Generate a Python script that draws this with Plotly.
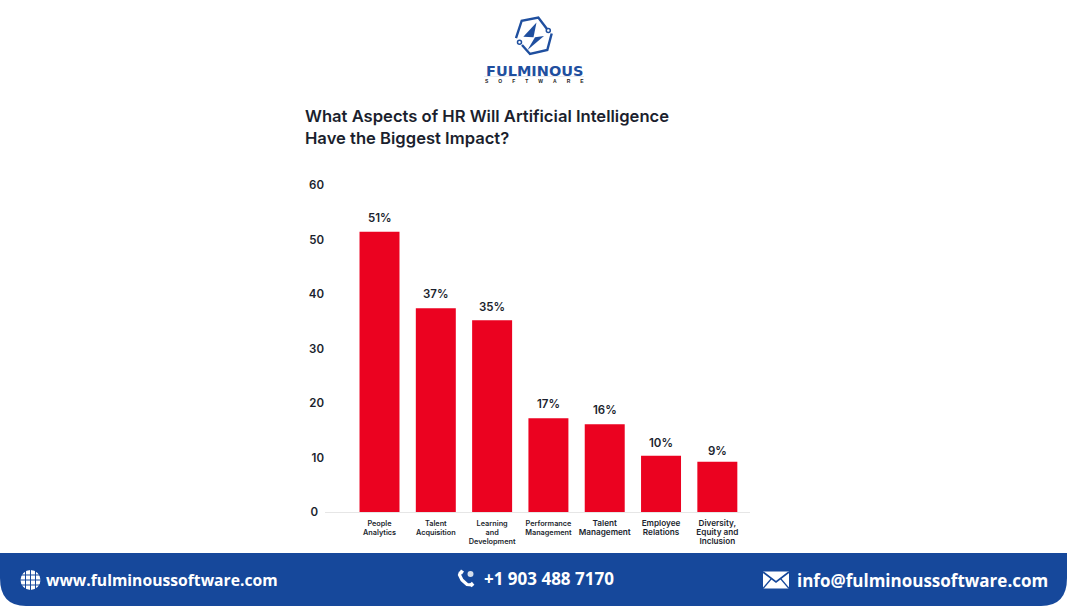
import plotly.graph_objects as go

W = 1067
H = 606

categories = ['People Analytics', 'Talent Acquisition', 'Learning and Development',
              'Performance Management', 'Talent Management', 'Employee Relations',
              'Diversity, Equity and Inclusion']
values = [51.4, 37.4, 35.2, 17.2, 16.1, 10.3, 9.2]
value_labels = ['51%', '37%', '35%', '17%', '16%', '10%', '9%']
tick_lines = ['People<br>Analytics', 'Talent<br>Acquisition', 'Learning<br>and<br>Development',
              'Performance<br>Management', 'Talent<br>Management', 'Employee<br>Relations',
              'Diversity,<br>Equity and<br>Inclusion']
y_ticks = [0, 10, 20, 30, 40, 50, 60]

# styling per bar
tick_sizes = [7.3, 7.3, 7.3, 7.3, 8.2, 8.2, 8.2]
label_shifts = [14, 14, 13, 14, 14, 13, 11]

BLUE = '#16489B'
LOGO = '#1F4F9F'
INK = '#1B1F2E'


def px(x):
    return x / W


def py(y):
    return 1 - y / H


def path(points, close=False):
    s = 'M ' + ' L '.join('{:.5f},{:.5f}'.format(px(x), py(y)) for x, y in points)
    return s + (' Z' if close else '')


def circle(cx, cy, r, fill, line=None, width=0):
    return dict(type='circle', xref='paper', yref='paper',
                x0=px(cx - r), x1=px(cx + r), y0=py(cy + r), y1=py(cy - r),
                fillcolor=fill, line=dict(color=line or fill, width=width))


def stroke(points, color, width):
    return dict(type='path', xref='paper', yref='paper', path=path(points),
                line=dict(color=color, width=width))


def solid(points, color):
    return dict(type='path', xref='paper', yref='paper', path=path(points, True),
                fillcolor=color, line=dict(width=0))


shapes = []

# footer band, rounded bottom corners
shapes.append(dict(
    type='path', xref='paper', yref='paper', layer='below', fillcolor=BLUE, line=dict(width=0),
    path='M {},{} L {},{} L {},{} Q {},{} {},{} L {},{} Q {},{} {},{} Z'.format(
        px(0), py(553), px(W), py(553), px(W), py(578),
        px(W), py(606), px(W - 26), py(606),
        px(26), py(606), px(0), py(606), px(0), py(578))))

# logo
shapes.append(stroke([(547, 29), (538.3, 17.5), (521.7, 20.7), (516, 38)], LOGO, 2.4))
shapes.append(stroke([(522, 45), (530, 54), (547.3, 50), (551.7, 33.5)], LOGO, 2.4))
shapes.append(circle(548.3, 30.5, 2, 'white', LOGO, 1.5))
shapes.append(circle(519.5, 42.3, 2, 'white', LOGO, 1.5))
shapes.append(solid([(536.5, 22.5), (523.3, 36.7), (533.5, 37.3)], LOGO))
shapes.append(solid([(544, 36), (535, 37.3), (527.5, 50)], LOGO))
shapes.append(stroke([(484, 76.5), (584, 76.5)], '#E3E6EC', 0.8))

# globe icon
shapes.append(circle(30.5, 580, 10, 'white'))
for dy in (-5, 0, 5):
    shapes.append(stroke([(20, 580 + dy), (41, 580 + dy)], BLUE, 1))
for dx in (-5, 0, 5):
    shapes.append(stroke([(30.5 + dx, 570), (30.5 + dx, 590)], BLUE, 1))

# phone icon
shapes.append(stroke([(460.5, 572), (459.5, 575), (462, 580), (467, 584.5), (472, 585)], 'white', 3.2))
shapes.append(stroke([(460, 571), (463, 573)], 'white', 3.6))
shapes.append(stroke([(470.5, 583), (473, 586)], 'white', 3.6))
shapes.append(circle(470.5, 574, 3, '#D5DEEC'))

# envelope icon
shapes.append(dict(type='rect', xref='paper', yref='paper', x0=px(763), x1=px(789),
                   y0=py(588.5), y1=py(571.5), fillcolor='white', line=dict(width=0)))
shapes.append(stroke([(763, 572), (776, 582), (789, 572)], BLUE, 1.6))
shapes.append(stroke([(763, 588.5), (771.5, 578.5)], BLUE, 1.2))
shapes.append(stroke([(789, 588.5), (780.5, 578.5)], BLUE, 1.2))

annotations = []

# labels over the bars
for cat, val, lab, shift in zip(categories, values, value_labels, label_shifts):
    annotations.append(dict(x=cat, y=val, xref='x', yref='y', text=lab, showarrow=False,
                            yshift=shift, font=dict(family='Inter', size=11.5, color=INK, weight=600)))


def page_text(x, y, text, font, xanchor='left'):
    annotations.append(dict(x=px(x), y=py(y), xref='paper', yref='paper', text=text,
                            showarrow=False, xanchor=xanchor, yanchor='middle', font=font))


page_text(44, 580, 'www.fulminoussoftware.com', dict(family='Open Sans', size=15.7, color='white', weight=700))
page_text(482, 578.5, '+1 903 488 7170', dict(family='Open Sans', size=17, color='white', weight=700))
page_text(795, 580, 'info@fulminoussoftware.com', dict(family='Open Sans', size=17, color='white', weight=700))
page_text(534, 70.5, 'FULMINOUS', dict(family='DejaVu Sans', size=14.5, color=LOGO, weight=700), 'center')
page_text(534, 81, '\u2003\u2003'.join('SOFTWARE'), dict(family='Liberation Sans', size=5, color='#222222', weight=700), 'center')

fig = go.Figure()

fig.add_trace(go.Bar(
    x=categories,
    y=values,
    marker=dict(color='#EB0220', line_width=0),
    hoverinfo='skip',
    showlegend=False,
))

fig.update_layout(
    width=W,
    height=H,
    margin=dict(l=0, r=0, t=0, b=0),
    paper_bgcolor='white',
    plot_bgcolor='white',
    bargap=0.29,
    shapes=shapes,
    annotations=annotations,
    title=dict(
        text='What Aspects of HR Will Artificial Intelligence<br>Have the Biggest Impact?',
        x=px(305), xanchor='left', xref='paper',
        y=py(122), yanchor='top', yref='paper',
        font=dict(family='Inter', size=16.6, color=INK, weight=600),
    ),
    xaxis=dict(
        automargin=False,
        domain=[px(325), px(750)],
        range=[-0.968, 6.58],
        tickmode='array',
        tickvals=categories,
        ticktext=['<span style="font-size:{}px">{}</span>'.format(s, t)
                  for s, t in zip(tick_sizes, tick_lines)],
        tickangle=0,
        tickfont=dict(family='Inter', size=6.8, color=INK, weight=600),
        showgrid=False,
        showline=True,
        linecolor='#E6E6E6',
        linewidth=1,
        ticks='',
        ticklabelstandoff=5,
    ),
    yaxis=dict(
        automargin=False,
        domain=[py(512), py(170)],
        range=[0, 62.75],
        tickmode='array',
        tickvals=y_ticks,
        ticktext=['0\u00a0\u00a0'] + [str(v) for v in y_ticks[1:]],
        tickfont=dict(family='Inter', size=11.5, color=INK, weight=600),
        showgrid=False,
        zeroline=False,
        showline=False,
        ticks='',
    ),
)

fig.write_html("out.html", config=dict(displayModeBar=False),
               post_script="document.body.style.margin='0'")
